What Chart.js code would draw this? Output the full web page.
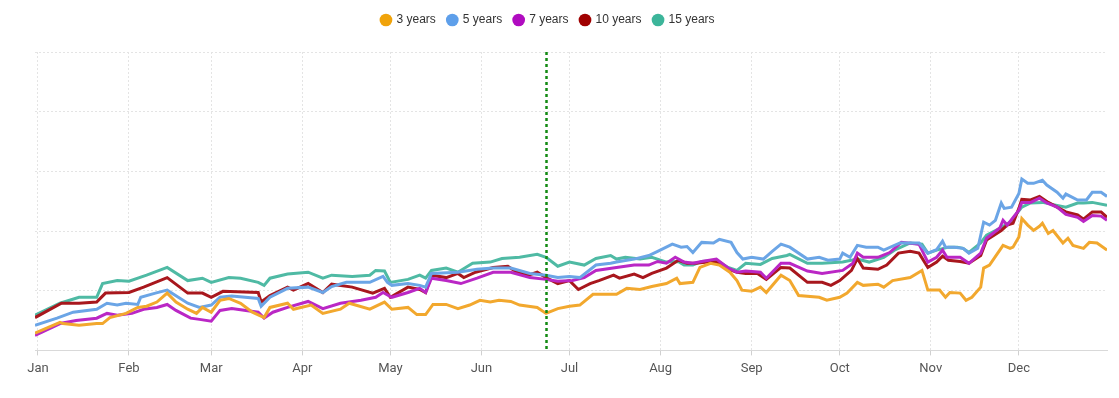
<!DOCTYPE html>
<html>
<head>
<meta charset="utf-8">
<script src="https://cdn.jsdelivr.net/npm/chart.js@4.4.0/dist/chart.umd.min.js"></script>
<style>
  html, body { margin: 0; padding: 0; background: #fff; }
  #wrap { width: 1119px; height: 398px; }
</style>
</head>
<body>
<div id="wrap"><canvas id="curveChart"></canvas></div>
<script>
// --- datos: día del año (0 = 1 ene) y valor ---
const months = ["Jan", "Feb", "Mar", "Apr", "May", "Jun", "Jul", "Aug", "Sep", "Oct", "Nov", "Dec"];
const monthStarts = [0, 31, 59, 90, 120, 151, 181, 212, 243, 273, 304, 334];
const seriesNames = ["3 years", "5 years", "7 years", "10 years", "15 years"];
const markerDay = 173;

const threeYears = [
  [-1,0.29],[7.5,0.47],[8.5,0.45],[14,0.42],[20,0.45],[22,0.45],[24.5,0.55],[30,0.62],[34,0.72],[37,0.74],
  [40.5,0.81],[44,0.96],[47,0.81],[51,0.69],[54,0.62],[56,0.72],[59,0.64],[62,0.84],[65,0.87],[69,0.79],
  [73,0.64],[77,0.55],[79,0.72],[85,0.79],[87,0.69],[93,0.76],[97,0.62],[103,0.69],[106,0.79],[113,0.69],
  [118,0.81],[120.5,0.69],[126,0.72],[129,0.60],[132,0.60],[134.5,0.77],[139,0.77],[143,0.70],[147,0.76],[150.5,0.84],
  [154,0.81],[157,0.84],[161,0.82],[164,0.76],[170,0.72],[173,0.62],[177,0.70],[181,0.74],[184.5,0.76],[189,0.94],
  [195,0.94],[197,0.94],[200.5,1.04],[205,1.02],[209,1.07],[214,1.12],[217.5,1.21],[218.6,1.12],[223,1.14],[225.4,1.39],
  [229,1.46],[232,1.43],[235.6,1.31],[238,1.17],[239.7,1.01],[243,0.99],[246,1.06],[248,0.97],[253,1.26],[256,1.17],
  [259,0.92],[266,0.89],[268.6,0.84],[273,0.89],[275.5,0.96],[279,1.14],[281,1.09],[286,1.11],[288,1.06],[291,1.17],
  [297,1.22],[301,1.34],[303,1.01],[307,1.01],[309,0.89],[310.5,0.97],[314,0.96],[316,0.84],[318,0.89],[321,1.06],
  [322,1.38],[324,1.43],[327.5,1.68],[328.6,1.76],[331,1.71],[332,1.73],[334,1.90],[335,2.21],[337,2.10],[339,2.01],
  [341,2.08],[342,2.13],[344,1.96],[345.6,2.01],[349,1.80],[350.7,1.88],[352.4,1.76],[356,1.71],[358,1.81],[360.6,1.80],
  [364,1.68]
];

const fiveYears = [
  [-1,0.42],[6.5,0.54],[12,0.64],[20,0.69],[23.5,0.79],[27,0.76],[30,0.79],[34,0.77],[35,0.89],[40,0.96],
  [44,1.01],[51,0.79],[55,0.72],[59,0.76],[62,0.89],[66,0.91],[75,0.87],[76,0.74],[79,0.89],[85,1.04],
  [92,1.06],[97,0.97],[100,1.07],[105,1.14],[113,1.14],[117.5,1.24],[119,1.14],[120.5,1.09],[126,1.12],[130,1.09],
  [132,1.06],[134,1.29],[143,1.31],[149.5,1.36],[155,1.38],[161,1.38],[167.5,1.29],[173,1.26],[177,1.22],[181,1.24],
  [184.5,1.22],[190,1.43],[195,1.46],[197,1.48],[203,1.53],[208,1.59],[211,1.66],[216,1.78],[219,1.73],[221,1.74],
  [223,1.64],[226,1.81],[230,1.80],[232,1.86],[236,1.81],[238,1.64],[240,1.53],[243,1.56],[247,1.53],[250,1.66],
  [253,1.78],[256,1.73],[262,1.53],[266,1.56],[269,1.51],[273,1.53],[274,1.63],[276.5,1.56],[279,1.76],[282,1.73],
  [286,1.73],[288,1.68],[293.5,1.80],[300,1.80],[303,1.63],[306,1.69],[308,1.83],[309,1.73],[312,1.73],[315,1.71],
  [317,1.63],[320,1.71],[322,2.15],[324,2.10],[326,2.18],[328,2.47],[329,2.38],[331.5,2.40],[334,2.63],[335,2.87],
  [337,2.80],[339,2.80],[342,2.85],[343.5,2.77],[347,2.65],[349,2.55],[350,2.62],[354,2.52],[357,2.52],[359,2.65],
  [362,2.65],[364,2.58]
];

const sevenYears = [
  [-1,0.25],[5,0.39],[7.5,0.45],[13,0.50],[20,0.54],[23.5,0.62],[27,0.59],[32,0.62],[36,0.69],[40.5,0.72],
  [44,0.77],[47,0.67],[52,0.54],[55,0.52],[59,0.49],[62,0.67],[66,0.70],[75,0.64],[77,0.54],[80,0.64],
  [85,0.72],[92,0.82],[97,0.70],[103,0.79],[110,0.84],[115,0.89],[117.5,0.97],[120.5,0.89],[126,0.97],[130,1.04],
  [132,0.97],[134,1.21],[139,1.17],[144,1.12],[149.5,1.21],[155,1.31],[161,1.31],[167.5,1.22],[173,1.19],[177,1.16],
  [182,1.17],[186,1.22],[190,1.34],[197,1.39],[203,1.43],[208,1.43],[211,1.49],[214,1.46],[217,1.56],[220,1.48],
  [223,1.46],[226,1.49],[231,1.53],[235,1.38],[238,1.31],[241,1.33],[246,1.31],[248,1.21],[253,1.46],[256,1.46],
  [262,1.33],[267,1.29],[274,1.34],[277.5,1.46],[279,1.63],[281,1.56],[286,1.56],[290,1.64],[294,1.81],[300,1.78],
  [303,1.48],[306,1.56],[308,1.68],[309.5,1.56],[314,1.56],[317,1.46],[321,1.63],[323,1.88],[327.5,2.05],[328.6,2.18],
  [330,2.10],[334,2.35],[335,2.48],[338,2.48],[341,2.55],[343.5,2.47],[347,2.40],[350,2.28],[354,2.23],[356,2.16],
  [359,2.26],[362,2.25],[364,2.18]
];

const tenYears = [
  [-1,0.55],[8,0.79],[14,0.79],[20,0.81],[23,0.96],[31,0.97],[36,1.06],[44,1.22],[51,0.96],[56,0.96],
  [59,0.89],[63,0.99],[75,0.97],[76,0.81],[79,0.92],[85,1.06],[87,1.01],[92,1.12],[97,0.97],[100,1.11],
  [107,1.06],[114,0.96],[118,1.04],[120,0.89],[126,1.06],[130,1.02],[132,0.97],[134,1.26],[139,1.22],[143,1.29],
  [145,1.22],[149,1.31],[155,1.39],[160,1.41],[163,1.31],[167,1.26],[170,1.31],[173,1.22],[177,1.12],[181,1.17],
  [184,1.02],[188,1.12],[191,1.17],[196,1.26],[198,1.21],[203,1.28],[206,1.22],[209,1.29],[214,1.38],[218,1.51],
  [221,1.46],[224,1.46],[228,1.48],[231,1.48],[235,1.36],[238,1.31],[241,1.29],[245,1.29],[248,1.19],[253,1.39],
  [256,1.38],[262,1.14],[267,1.14],[270,1.09],[273,1.17],[277,1.34],[279,1.54],[281,1.38],[286,1.36],[289,1.43],
  [293,1.63],[297,1.66],[300,1.63],[303,1.39],[306,1.48],[308,1.58],[310,1.51],[314,1.49],[317,1.46],[321,1.59],
  [323,1.85],[328,2.01],[330,2.10],[332,2.13],[334,2.38],[335,2.53],[338,2.52],[341,2.58],[344,2.48],[347,2.40],
  [350,2.32],[354,2.27],[356,2.20],[359,2.32],[362,2.32],[364,2.23]
];

const fifteenYears = [
  [-1,0.59],[7.5,0.79],[14,0.89],[20,0.89],[22,1.12],[27,1.17],[31,1.16],[37,1.26],[44,1.39],[51,1.17],
  [56,1.21],[59,1.14],[65,1.22],[69,1.21],[75,1.14],[77,1.09],[79,1.21],[85,1.28],[92,1.31],[97,1.21],
  [100,1.26],[107,1.24],[113,1.26],[115,1.34],[118,1.33],[120,1.14],[126,1.19],[130,1.26],[132,1.21],[134,1.34],
  [139,1.38],[143,1.31],[148,1.46],[154,1.48],[158,1.54],[164,1.56],[170,1.61],[173,1.56],[177,1.41],[181,1.48],
  [186,1.43],[190,1.54],[195,1.59],[197,1.53],[200,1.56],[205,1.53],[209,1.56],[214,1.48],[218,1.49],[220,1.43],
  [223,1.43],[226,1.49],[231,1.51],[235,1.39],[238,1.34],[241,1.46],[246,1.44],[250,1.54],[255,1.59],[256,1.61],
  [262,1.46],[267,1.46],[274,1.48],[279,1.53],[283,1.48],[288,1.56],[292,1.69],[297,1.80],[301,1.78],[303,1.63],
  [306,1.68],[310,1.73],[313,1.73],[315,1.71],[317,1.64],[321,1.80],[323,1.93],[328,2.06],[331,2.15],[335,2.40],
  [338,2.47],[342,2.48],[347,2.43],[350,2.40],[354,2.47],[356,2.47],[359,2.48],[364,2.43]
];

const seriesData = [threeYears, fiveYears, sevenYears, tenYears, fifteenYears];
const lineColors = ["#f2a82e", "#6ba5e6", "#ba27c5", "#a8171d", "#4fbaa4"];
const legendColors = ["#f0a30a", "#5e9fea", "#b00cc0", "#a00000", "#3cb59a"];

// línea vertical punteada
const markerLine = {
  id: "markerLine",
  afterDatasetsDraw(chart) {
    const { ctx, chartArea, scales } = chart;
    const x = Math.round(scales.x.getPixelForValue(markerDay)) + 0.5;
    ctx.save();
    ctx.strokeStyle = "#138a13";
    ctx.lineWidth = 2.5;
    ctx.setLineDash([3, 3]);
    ctx.beginPath();
    ctx.moveTo(x, chartArea.top);
    ctx.lineTo(x, chartArea.bottom);
    ctx.stroke();
    ctx.restore();
  }
};

// espacio extra bajo la leyenda y leyenda algo a la izquierda
const legendTweak = {
  id: "legendTweak",
  beforeInit(chart) {
    const legend = chart.legend;
    const fit = legend.fit;
    legend.fit = function () {
      fit.bind(legend)();
      this.height += 16;
    };
    const draw = legend.draw;
    legend.draw = function () {
      const c = chart.ctx;
      c.save();
      c.translate(-23, 0);
      draw.bind(legend)();
      c.restore();
    };
  }
};

document.addEventListener("DOMContentLoaded", () => {
  const ctx = document.getElementById("curveChart").getContext("2d");
  new Chart(ctx, {
    type: "line",
    data: {
      datasets: seriesNames.map((name, i) => ({
        label: name,
        data: seriesData[i].map(p => ({ x: p[0], y: p[1] })),
        borderColor: lineColors[i],
        backgroundColor: legendColors[i],
        borderWidth: 3,
        pointRadius: 0,
        tension: 0,
        fill: false
      }))
    },
    options: {
      responsive: true,
      maintainAspectRatio: false,
      animation: false,
      layout: { padding: { top: 2, left: 35, right: 12, bottom: 15 } },
      plugins: {
        tooltip: { enabled: false },
        legend: {
          position: "top",
          labels: {
            usePointStyle: true,
            pointStyle: "circle",
            boxWidth: 9,
            boxHeight: 9,
            padding: 12,
            color: "#333",
            font: { family: "'Liberation Sans', Arial, sans-serif", size: 12 },
            generateLabels(chart) {
              return Chart.defaults.plugins.legend.labels.generateLabels(chart)
                .map((l, i) => ({ ...l, lineWidth: 0, fillStyle: legendColors[i] }));
            }
          }
        }
      },
      scales: {
        x: {
          type: "linear",
          min: -1,
          max: 364,
          afterBuildTicks(axis) {
            axis.ticks = monthStarts.map(v => ({ value: v }));
          },
          ticks: {
            autoSkip: false,
            maxRotation: 0,
            padding: 6,
            color: "#555",
            font: { family: "Roboto, sans-serif", size: 13 },
            callback: v => months[monthStarts.indexOf(v)]
          },
          grid: { color: "#e4e4e4", tickLength: 5, tickColor: "#d0d0d0" },
          border: { display: true, color: "#d9d9d9", width: 1, dash: [2, 2] }
        },
        y: {
          min: 0,
          max: 5,
          ticks: { display: false, stepSize: 1 },
          grid: { color: "#e4e4e4", drawTicks: false },
          border: { display: false, dash: [2, 2] }
        }
      }
    },
    plugins: [markerLine, legendTweak]
  });
});
</script>
</body>
</html>
